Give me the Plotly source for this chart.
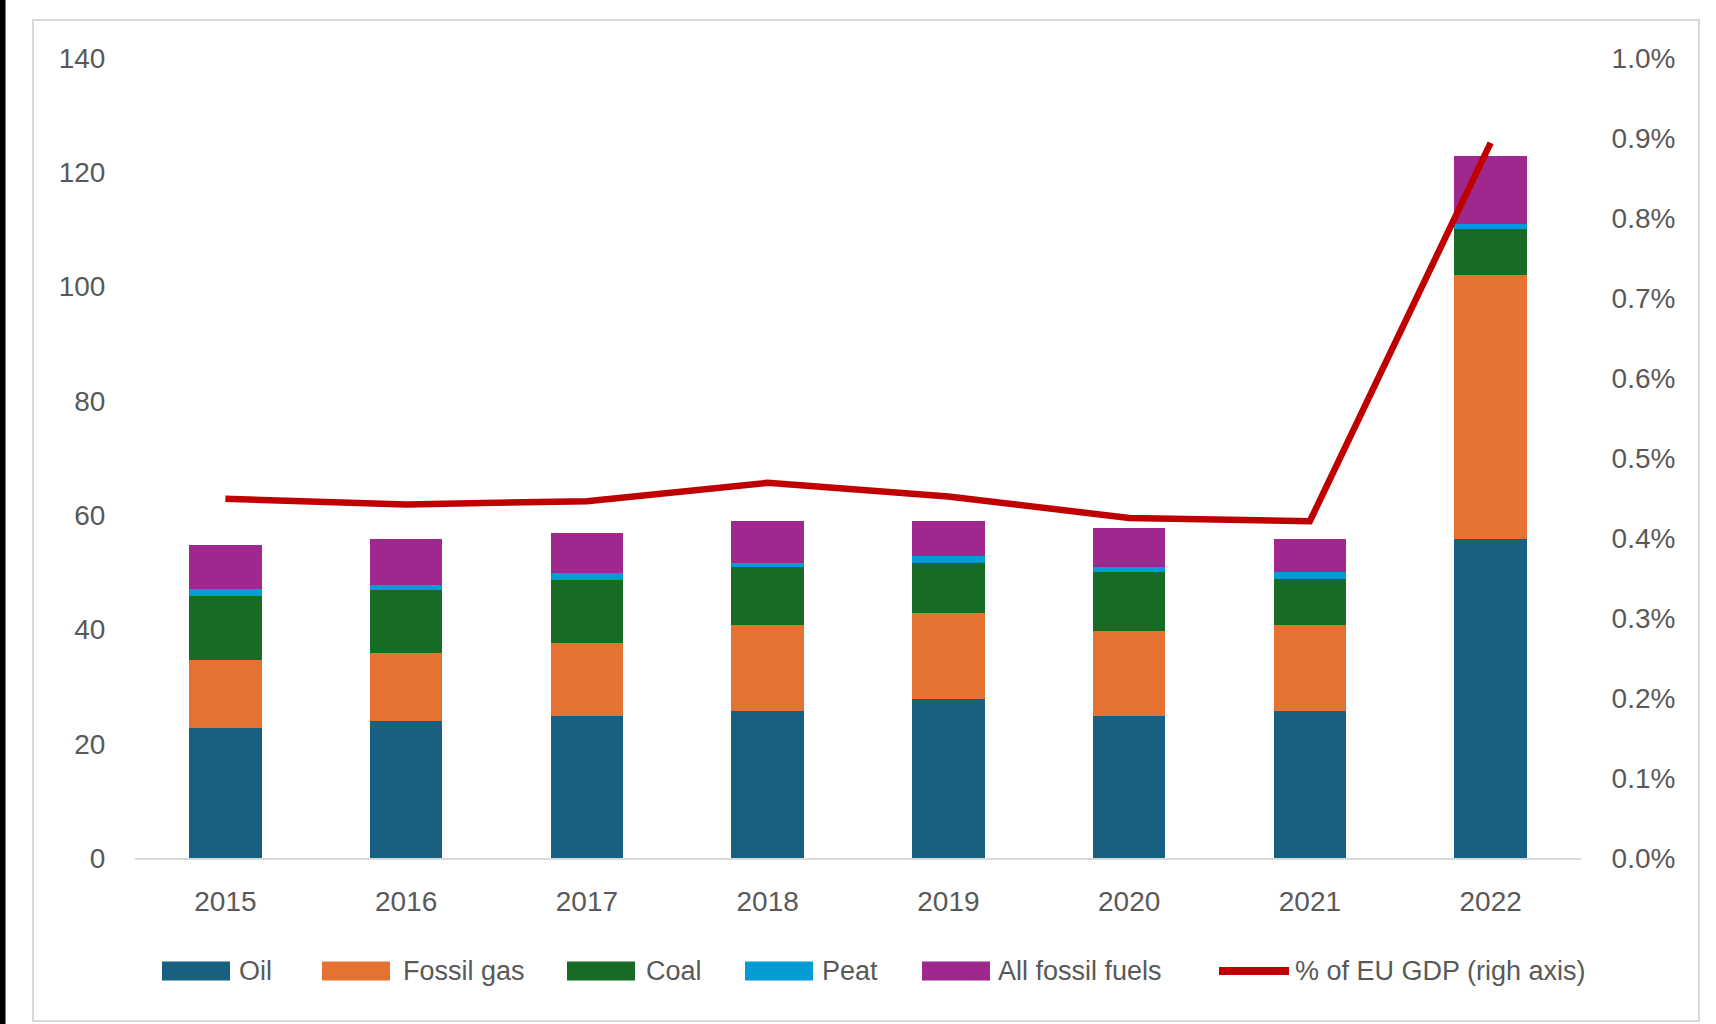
import plotly.graph_objects as go

years = ["2015", "2016", "2017", "2018", "2019", "2020", "2021", "2022"]
oil = [22.8, 23.9, 24.8, 25.8, 27.9, 24.9, 25.8, 55.9]
fossil_gas = [11.9, 12.0, 12.9, 14.9, 14.9, 14.9, 15.0, 46.1]
coal = [11.1, 11.0, 11.0, 10.2, 8.9, 10.2, 8.0, 8.1]
peat = [1.2, 0.9, 1.2, 0.8, 1.2, 0.9, 1.2, 0.9]
all_fossil = [7.7, 8.1, 7.0, 7.3, 6.1, 6.9, 5.9, 11.9]
gdp_share = [0.00449, 0.00442, 0.00446, 0.00469, 0.00452, 0.00425, 0.00421, 0.00894]

left_ticks = [0, 20, 40, 60, 80, 100, 120, 140]
right_ticks = [0.000, 0.001, 0.002, 0.003, 0.004, 0.005, 0.006, 0.007, 0.008, 0.009, 0.010]

bar_names = ["Oil", "Fossil gas", "Coal", "Peat", "All fossil fuels"]
line_name = "% of EU GDP (righ axis)"
bar_colors = ["#17607F", "#E47332", "#186B25", "#049CD4", "#9E288E"]
line_color = "#C00000"

W, H = 1716, 1024
L, R, T, B = 135, 135, 58, 166
PW, PH = W - L - R, H - T - B

def px(x):
    return (x - L) / PW

def py(y):
    return (H - B - y) / PH

FONT = "Liberation Sans, Arial, sans-serif"
TXT = "#595959"

fig = go.Figure()
for name, vals, col in zip(bar_names, [oil, fossil_gas, coal, peat, all_fossil], bar_colors):
    fig.add_trace(go.Bar(x=years, y=vals, name=name, marker=dict(color=col, line=dict(width=0)),
                         showlegend=False))

fig.add_trace(go.Scatter(x=years, y=gdp_share, name=line_name, mode="lines",
                         line=dict(color=line_color, width=6.5), yaxis="y2", showlegend=False))

shapes = []
annotations = []
# outer frame and left black band
shapes.append(dict(type="rect", xref="paper", yref="paper", x0=px(33), x1=px(1699), y0=py(20), y1=py(1021),
                   line=dict(color="#D9D9D9", width=2), fillcolor="rgba(0,0,0,0)", layer="below"))
shapes.append(dict(type="rect", xref="paper", yref="paper", x0=px(0), x1=px(5.5), y0=py(0), y1=py(H),
                   line=dict(width=0), fillcolor="#000000", layer="above"))

# custom legend
leg_y = 971
sw_left = [162, 322, 567, 745, 922]
txt_left = [237, 401, 644, 820, 996]
for name, col, sx, tx in zip(bar_names, bar_colors, sw_left, txt_left):
    shapes.append(dict(type="rect", xref="paper", yref="paper", x0=px(sx), x1=px(sx + 68),
                       y0=py(leg_y + 9.5), y1=py(leg_y - 9.5), line=dict(width=0), fillcolor=col))
    annotations.append(dict(xref="paper", yref="paper", x=px(tx), y=py(leg_y), text=name, showarrow=False,
                            xanchor="left", yanchor="middle", font=dict(family=FONT, size=27, color=TXT)))
shapes.append(dict(type="line", xref="paper", yref="paper", x0=px(1219), x1=px(1289), y0=py(leg_y), y1=py(leg_y),
                   line=dict(color=line_color, width=8)))
annotations.append(dict(xref="paper", yref="paper", x=px(1293), y=py(leg_y), text=line_name, showarrow=False,
                        xanchor="left", yanchor="middle", font=dict(family=FONT, size=27, color=TXT)))

fig.update_layout(
    width=W, height=H,
    margin=dict(l=L, r=R, t=T, b=B, autoexpand=False),
    paper_bgcolor="white", plot_bgcolor="white",
    barmode="stack", bargap=0.6,
    font=dict(family=FONT, size=28, color=TXT),
    showlegend=False,
    shapes=shapes, annotations=annotations,
    xaxis=dict(type="category", showline=True, linecolor="#D9D9D9", linewidth=2, showgrid=False,
               ticks="outside", ticklen=17, tickcolor="rgba(0,0,0,0)", tickfont=dict(size=28, color=TXT)),
    yaxis=dict(range=[0, 140], tickvals=left_ticks, showgrid=False, zeroline=False, showline=False,
               ticks="outside", ticklen=23, tickcolor="rgba(0,0,0,0)", tickfont=dict(size=28, color=TXT)),
    yaxis2=dict(range=[0, 0.01], tickvals=right_ticks, tickformat=".1%", overlaying="y", side="right",
                showgrid=False, zeroline=False, showline=False,
                ticks="outside", ticklen=24, tickcolor="rgba(0,0,0,0)", tickfont=dict(size=28, color=TXT)),
)

fig.write_html("out.html", config={"displayModeBar": False},
               post_script="document.body.style.margin='0';document.body.style.overflow='hidden';")
